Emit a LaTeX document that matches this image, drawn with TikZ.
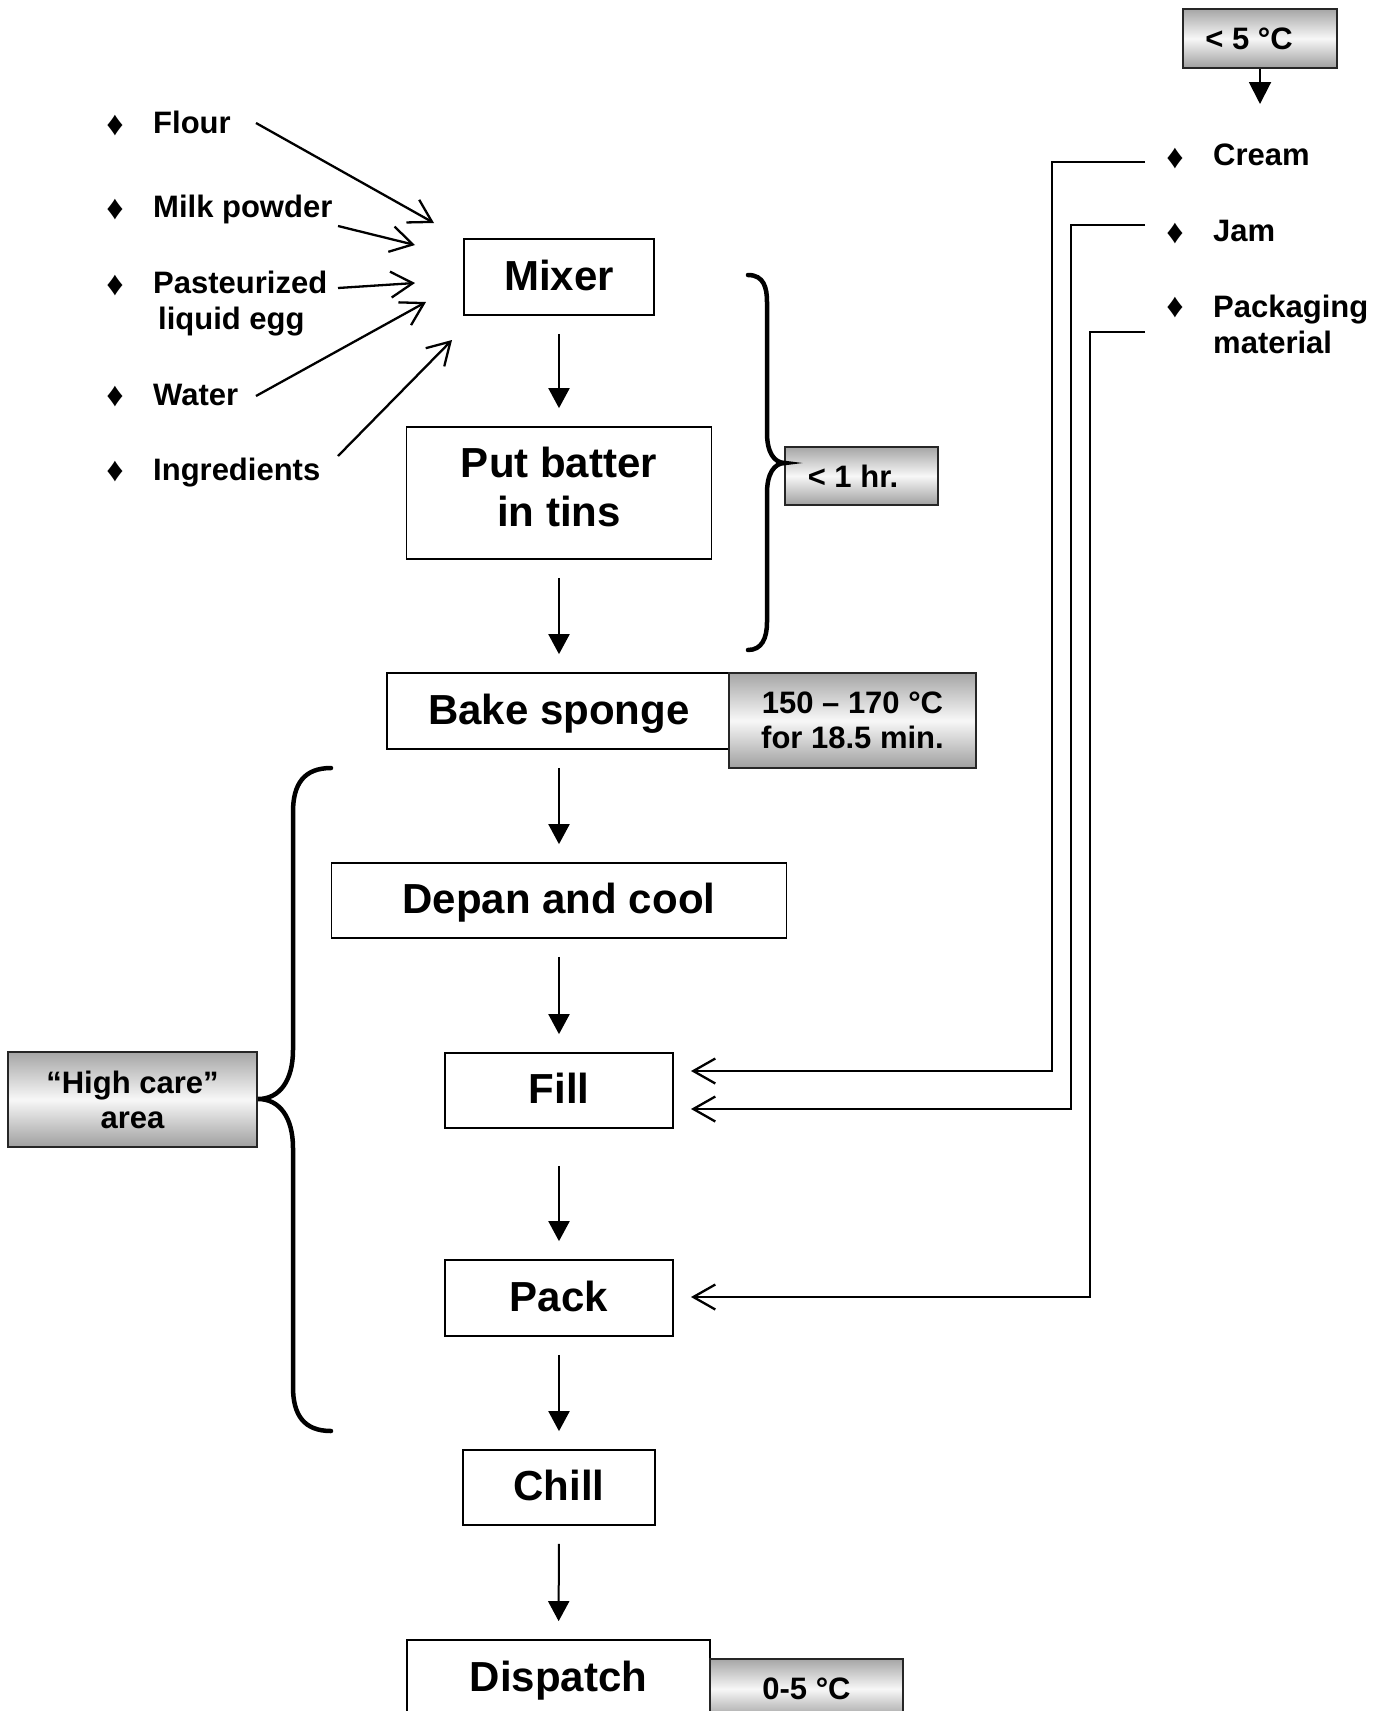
\documentclass[tikz,border=0pt]{standalone}
\usepackage{fontspec}
\setmainfont{Liberation Sans}
\usetikzlibrary{arrows.meta}
\tikzset{
 proc/.style={draw, line width=1.7pt, fill=white, inner sep=0pt, font=\bfseries\fontsize{42}{49}\selectfont, align=center},
 oneline/.style={text height=30pt, text depth=4pt},
 greybox/.style={draw=black!85, line width=1.8pt, top color=gray!70, bottom color=gray!75, middle color=white!94!gray, inner sep=0pt, font=\bfseries\fontsize{31}{35}\selectfont, align=center},
 lbl/.style={inner sep=0pt, font=\bfseries\fontsize{31}{36}\selectfont, align=left, anchor=west},
 capfix/.style={text height=22pt, text depth=0pt},
 bul/.style={inner sep=0pt, font=\fontsize{34}{34}\selectfont},
 flow/.style={line width=2pt, -{Triangle[length=20pt,width=21pt]}, shorten <=18pt, shorten >=18pt},
 feed/.style={line width=2.3pt, -{Straight Barb[length=22pt,width=26pt]}},
 bracepath/.style={line width=4.5pt, line cap=round},
}
\begin{document}
\begin{tikzpicture}[x=1pt,y=-1pt]
\useasboundingbox (0,0) rectangle (1389,1711);
\begin{scope}
\clip (0,0) rectangle (1389,1711);

% main process boxes
\node[proc, oneline, minimum width=190pt, minimum height=76pt] (mixer) at (559,277) {Mixer};
\node[proc, minimum width=305pt, minimum height=132pt] (put) at (559,493) {Put batter\\in tins\rule[-12pt]{0pt}{12pt}};
\node[proc, oneline, minimum width=344pt, minimum height=76pt] (bake) at (559,711) {Bake sponge};
\node[proc, oneline, minimum width=455pt, minimum height=75pt] (depan) at (559,900.5) {Depan and cool};
\node[proc, oneline, minimum width=228pt, minimum height=75pt] (fill) at (559,1090.5) {Fill};
\node[proc, oneline, minimum width=228pt, minimum height=76pt] (pack) at (559,1298) {Pack};
\node[proc, oneline, minimum width=192pt, minimum height=75pt] (chill) at (559,1487.5) {Chill};
\node[proc, oneline, minimum width=303pt, minimum height=76pt] (dispatch) at (558.5,1678) {Dispatch};

% grey annotation boxes
\node[greybox, minimum width=154pt, minimum height=59pt] (t5) at (1260,38.5) {\hspace*{-22pt}< 5 °C};
\node[greybox, minimum width=247pt, minimum height=95pt] (bakeT) at (852.5,720.5) {150 – 170 °C\\for 18.5 min.};
\node[greybox, minimum width=153pt, minimum height=58pt] (hr) at (861.5,476) {\hspace*{-17pt}< 1 hr.};
\node[greybox, minimum width=249pt, minimum height=95pt] (hc) at (132.5,1099.5) {“High care”\\area};
\node[greybox, minimum width=193pt, minimum height=60pt] (disT) at (806.5,1689) {0-5 °C};

% flow arrows
\draw[flow] (mixer) -- (put);
\draw[flow] (put) -- (bake);
\draw[flow] (bake) -- (depan);
\draw[flow] (depan) -- (fill);
\draw[flow, shorten <=37pt] (fill) -- (pack);
\draw[flow] (pack) -- (chill);
\draw[flow] (chill) -- (dispatch);

% left inputs
\node[bul] (b1) at (115,126) {♦};
\node[bul] (b2) at (115,210) {♦};
\node[bul] (b3) at (115,286) {♦};
\node[bul] (b4) at (115,397) {♦};
\node[bul] (b5) at (115,472) {♦};
\node[lbl, capfix] (flour) at (153,122) {Flour};
\node[lbl, capfix] (milk) at (153,206) {Milk powder};
\node[lbl] (egg) at (153,304) {Pasteurized\\\hspace*{5pt}liquid egg};
\node[lbl, capfix] (water) at (153,394) {Water};
\node[lbl, capfix] (ingr) at (153,469) {Ingredients};

\coordinate (flS) at (256,123);  \coordinate (flT) at (434,223);
\coordinate (mkS) at (338,226);  \coordinate (mkT) at (415,245);
\coordinate (egS) at (338,288);  \coordinate (egT) at (415,283);
\coordinate (waS) at (256,396);  \coordinate (waT) at (426,302);
\coordinate (inS) at (338,456);  \coordinate (inT) at (452,340);
\draw[feed] (flS) -- (flT);
\draw[feed] (mkS) -- (mkT);
\draw[feed] (egS) -- (egT);
\draw[feed] (waS) -- (waT);
\draw[feed] (inS) -- (inT);

% right inputs
\node[bul] (rb1) at (1175,159) {♦};
\node[bul] (rb2) at (1175,234) {♦};
\node[bul] (rb3) at (1175,308) {♦};
\node[lbl, capfix] (cream) at (1213,154) {Cream};
\node[lbl, capfix] (jam) at (1213,230) {Jam};
\node[lbl] (pkg) at (1213,324) {Packaging\\material};

\coordinate (t5end) at (1260,104);
\draw[line width=2pt, -{Triangle[length=22pt,width=22pt]}] (t5.south) -- (t5end);

\coordinate (crS) at (1145,162); \coordinate (crX) at (1052,0); \coordinate (crT) at (691,1071);
\coordinate (jmS) at (1145,225); \coordinate (jmX) at (1071,0); \coordinate (jmT) at (691,1109);
\coordinate (pkS) at (1145,332); \coordinate (pkX) at (1090,0); \coordinate (pkT) at (691,1297);
\draw[feed, -{Straight Barb[length=22pt,width=25pt]}] (crS) -- (crS -| crX) -- (crT -| crX) -- (crT);
\draw[feed, -{Straight Barb[length=22pt,width=25pt]}] (jmS) -- (jmS -| jmX) -- (jmT -| jmX) -- (jmT);
\draw[feed, -{Straight Barb[length=22pt,width=25pt]}] (pkS) -- (pkS -| pkX) -- (pkT -| pkX) -- (pkT);

% braces
\draw[bracepath] (748,275) .. controls (764,275) and (767,288) .. (767,302) -- (767,433)
  .. controls (767,452) and (774,463) .. (785,463)
  .. controls (774,463) and (767,474) .. (767,493) -- (767,622)
  .. controls (767,638) and (762,650) .. (748,650);
\draw[bracepath] (331,768) .. controls (304,768) and (293,784) .. (293,812) -- (293,1050)
  .. controls (293,1080) and (280,1099) .. (258,1099)
  .. controls (280,1099) and (293,1118) .. (293,1148) -- (293,1387)
  .. controls (293,1415) and (304,1431) .. (331,1431);
\end{scope}
\end{tikzpicture}
\end{document}
